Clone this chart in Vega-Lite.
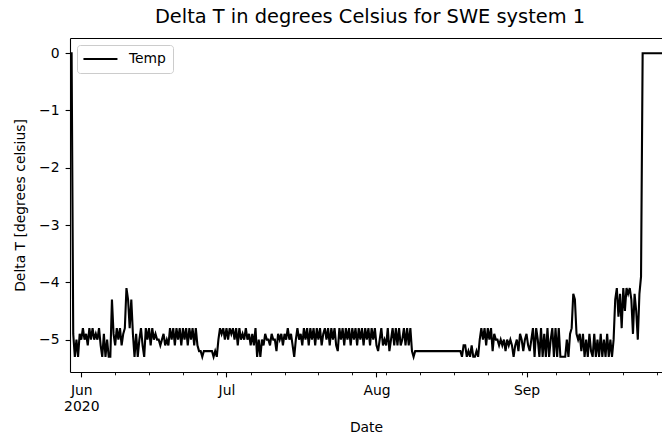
{
"$schema": "https://vega.github.io/schema/vega-lite/v6.json",
"width": 592, "height": 334,
"autosize": {"type": "none"},
"padding": {"left": 70, "top": 38, "right": 0, "bottom": 62},
"title": {"text": "Delta T in degrees Celsius for SWE system 1", "font": "DejaVu Sans", "fontSize": 19.4, "fontWeight": "normal", "color": "black", "anchor": "middle", "frame": "group", "baseline": "alphabetic", "offset": 11, "dy": 15, "dx": 4},
"data": {"values": [
{"t":"2020-05-29T16:00","v":0},
{"t":"2020-05-30T00:00","v":0},{"t":"2020-05-30T08:00","v":-4.9},{"t":"2020-05-30T16:00","v":-5.3},
{"t":"2020-05-31T00:00","v":-5.0},{"t":"2020-05-31T08:00","v":-5.3},{"t":"2020-05-31T16:00","v":-4.9},
{"t":"2020-06-01T00:00","v":-5.0},{"t":"2020-06-01T08:00","v":-4.8},{"t":"2020-06-01T16:00","v":-5.0},
{"t":"2020-06-02T00:00","v":-4.9},{"t":"2020-06-02T08:00","v":-5.1},{"t":"2020-06-02T16:00","v":-4.8},
{"t":"2020-06-03T00:00","v":-5.0},{"t":"2020-06-03T08:00","v":-4.8},{"t":"2020-06-03T16:00","v":-5.0},
{"t":"2020-06-04T00:00","v":-4.9},{"t":"2020-06-04T08:00","v":-5.0},{"t":"2020-06-04T16:00","v":-4.8},
{"t":"2020-06-05T00:00","v":-5.1},{"t":"2020-06-05T08:00","v":-5.3},{"t":"2020-06-05T16:00","v":-4.9},
{"t":"2020-06-06T00:00","v":-5.3},{"t":"2020-06-06T08:00","v":-5.0},{"t":"2020-06-06T16:00","v":-5.3},
{"t":"2020-06-07T00:00","v":-5.3},{"t":"2020-06-07T08:00","v":-4.3},{"t":"2020-06-07T16:00","v":-4.9},
{"t":"2020-06-08T00:00","v":-5.1},{"t":"2020-06-08T08:00","v":-4.8},{"t":"2020-06-08T16:00","v":-5.0},
{"t":"2020-06-09T00:00","v":-4.8},{"t":"2020-06-09T08:00","v":-5.1},{"t":"2020-06-09T16:00","v":-4.9},
{"t":"2020-06-10T00:00","v":-4.8},{"t":"2020-06-10T08:00","v":-4.1},{"t":"2020-06-10T16:00","v":-4.3},
{"t":"2020-06-11T00:00","v":-4.8},{"t":"2020-06-11T08:00","v":-4.3},{"t":"2020-06-11T16:00","v":-4.9},
{"t":"2020-06-12T00:00","v":-5.3},{"t":"2020-06-12T08:00","v":-4.9},{"t":"2020-06-12T16:00","v":-5.3},
{"t":"2020-06-13T00:00","v":-5.0},{"t":"2020-06-13T08:00","v":-4.8},{"t":"2020-06-13T16:00","v":-5.1},
{"t":"2020-06-14T00:00","v":-5.3},{"t":"2020-06-14T08:00","v":-4.8},{"t":"2020-06-14T16:00","v":-5.0},
{"t":"2020-06-15T00:00","v":-4.8},{"t":"2020-06-15T08:00","v":-5.1},{"t":"2020-06-15T16:00","v":-4.8},
{"t":"2020-06-16T00:00","v":-5.0},{"t":"2020-06-16T08:00","v":-4.9},{"t":"2020-06-16T16:00","v":-5.0},
{"t":"2020-06-17T00:00","v":-5.0},{"t":"2020-06-17T08:00","v":-5.1},{"t":"2020-06-17T16:00","v":-5.0},
{"t":"2020-06-18T00:00","v":-4.9},{"t":"2020-06-18T08:00","v":-5.1},{"t":"2020-06-18T16:00","v":-5.0},
{"t":"2020-06-19T00:00","v":-5.1},{"t":"2020-06-19T08:00","v":-4.8},{"t":"2020-06-19T16:00","v":-5.0},
{"t":"2020-06-20T00:00","v":-4.8},{"t":"2020-06-20T08:00","v":-5.1},{"t":"2020-06-20T16:00","v":-4.8},
{"t":"2020-06-21T00:00","v":-5.0},{"t":"2020-06-21T08:00","v":-4.8},{"t":"2020-06-21T16:00","v":-5.1},
{"t":"2020-06-22T00:00","v":-4.8},{"t":"2020-06-22T08:00","v":-5.0},{"t":"2020-06-22T16:00","v":-4.8},
{"t":"2020-06-23T00:00","v":-5.1},{"t":"2020-06-23T08:00","v":-4.8},{"t":"2020-06-23T16:00","v":-5.0},
{"t":"2020-06-24T00:00","v":-4.8},{"t":"2020-06-24T08:00","v":-5.1},{"t":"2020-06-24T16:00","v":-4.8},
{"t":"2020-06-25T00:00","v":-5.1},{"t":"2020-06-25T08:00","v":-5.2},{"t":"2020-06-25T16:00","v":-5.2},
{"t":"2020-06-26T00:00","v":-5.3},{"t":"2020-06-26T08:00","v":-5.2},{"t":"2020-06-26T16:00","v":-5.2},
{"t":"2020-06-27T00:00","v":-5.2},{"t":"2020-06-27T08:00","v":-5.2},{"t":"2020-06-27T16:00","v":-5.2},
{"t":"2020-06-28T00:00","v":-5.2},{"t":"2020-06-28T08:00","v":-5.3},{"t":"2020-06-28T16:00","v":-5.2},
{"t":"2020-06-29T00:00","v":-5.3},{"t":"2020-06-29T08:00","v":-5.0},{"t":"2020-06-29T16:00","v":-4.8},
{"t":"2020-06-30T00:00","v":-4.9},{"t":"2020-06-30T08:00","v":-4.8},{"t":"2020-06-30T16:00","v":-5.0},
{"t":"2020-07-01T00:00","v":-4.8},{"t":"2020-07-01T08:00","v":-5.0},{"t":"2020-07-01T16:00","v":-4.8},
{"t":"2020-07-02T00:00","v":-4.9},{"t":"2020-07-02T08:00","v":-4.8},{"t":"2020-07-02T16:00","v":-5.0},
{"t":"2020-07-03T00:00","v":-4.8},{"t":"2020-07-03T08:00","v":-5.1},{"t":"2020-07-03T16:00","v":-4.8},
{"t":"2020-07-04T00:00","v":-5.0},{"t":"2020-07-04T08:00","v":-4.9},{"t":"2020-07-04T16:00","v":-5.0},
{"t":"2020-07-05T00:00","v":-4.8},{"t":"2020-07-05T08:00","v":-5.0},{"t":"2020-07-05T16:00","v":-4.9},
{"t":"2020-07-06T00:00","v":-5.1},{"t":"2020-07-06T08:00","v":-4.9},{"t":"2020-07-06T16:00","v":-5.1},
{"t":"2020-07-07T00:00","v":-4.8},{"t":"2020-07-07T08:00","v":-5.3},{"t":"2020-07-07T16:00","v":-5.0},
{"t":"2020-07-08T00:00","v":-5.3},{"t":"2020-07-08T08:00","v":-5.0},{"t":"2020-07-08T16:00","v":-5.1},
{"t":"2020-07-09T00:00","v":-4.9},{"t":"2020-07-09T08:00","v":-5.0},{"t":"2020-07-09T16:00","v":-5.0},
{"t":"2020-07-10T00:00","v":-5.1},{"t":"2020-07-10T08:00","v":-4.9},{"t":"2020-07-10T16:00","v":-5.0},
{"t":"2020-07-11T00:00","v":-5.0},{"t":"2020-07-11T08:00","v":-5.2},{"t":"2020-07-11T16:00","v":-4.9},
{"t":"2020-07-12T00:00","v":-5.0},{"t":"2020-07-12T08:00","v":-4.9},{"t":"2020-07-12T16:00","v":-5.1},
{"t":"2020-07-13T00:00","v":-4.9},{"t":"2020-07-13T08:00","v":-5.0},{"t":"2020-07-13T16:00","v":-4.8},
{"t":"2020-07-14T00:00","v":-5.0},{"t":"2020-07-14T08:00","v":-4.9},{"t":"2020-07-14T16:00","v":-5.1},
{"t":"2020-07-15T00:00","v":-5.3},{"t":"2020-07-15T08:00","v":-5.0},{"t":"2020-07-15T16:00","v":-4.8},
{"t":"2020-07-16T00:00","v":-5.0},{"t":"2020-07-16T08:00","v":-4.9},{"t":"2020-07-16T16:00","v":-5.1},
{"t":"2020-07-17T00:00","v":-4.8},{"t":"2020-07-17T08:00","v":-5.0},{"t":"2020-07-17T16:00","v":-4.8},
{"t":"2020-07-18T00:00","v":-5.1},{"t":"2020-07-18T08:00","v":-4.8},{"t":"2020-07-18T16:00","v":-5.0},
{"t":"2020-07-19T00:00","v":-4.8},{"t":"2020-07-19T08:00","v":-5.1},{"t":"2020-07-19T16:00","v":-4.8},
{"t":"2020-07-20T00:00","v":-5.0},{"t":"2020-07-20T08:00","v":-4.8},{"t":"2020-07-20T16:00","v":-5.1},
{"t":"2020-07-21T00:00","v":-4.9},{"t":"2020-07-21T08:00","v":-4.8},{"t":"2020-07-21T16:00","v":-5.0},
{"t":"2020-07-22T00:00","v":-4.8},{"t":"2020-07-22T08:00","v":-5.1},{"t":"2020-07-22T16:00","v":-4.8},
{"t":"2020-07-23T00:00","v":-5.0},{"t":"2020-07-23T08:00","v":-4.8},{"t":"2020-07-23T16:00","v":-5.1},
{"t":"2020-07-24T00:00","v":-5.2},{"t":"2020-07-24T08:00","v":-4.8},{"t":"2020-07-24T16:00","v":-5.0},
{"t":"2020-07-25T00:00","v":-4.8},{"t":"2020-07-25T08:00","v":-5.1},{"t":"2020-07-25T16:00","v":-4.8},
{"t":"2020-07-26T00:00","v":-5.0},{"t":"2020-07-26T08:00","v":-4.8},{"t":"2020-07-26T16:00","v":-5.1},
{"t":"2020-07-27T00:00","v":-4.8},{"t":"2020-07-27T08:00","v":-5.0},{"t":"2020-07-27T16:00","v":-4.8},
{"t":"2020-07-28T00:00","v":-5.1},{"t":"2020-07-28T08:00","v":-4.8},{"t":"2020-07-28T16:00","v":-5.0},
{"t":"2020-07-29T00:00","v":-4.8},{"t":"2020-07-29T08:00","v":-5.1},{"t":"2020-07-29T16:00","v":-4.8},
{"t":"2020-07-30T00:00","v":-5.0},{"t":"2020-07-30T08:00","v":-4.8},{"t":"2020-07-30T16:00","v":-5.1},
{"t":"2020-07-31T00:00","v":-4.8},{"t":"2020-07-31T08:00","v":-5.0},{"t":"2020-07-31T16:00","v":-4.8},
{"t":"2020-08-01T00:00","v":-5.1},{"t":"2020-08-01T08:00","v":-5.2},{"t":"2020-08-01T16:00","v":-5.0},
{"t":"2020-08-02T00:00","v":-4.8},{"t":"2020-08-02T08:00","v":-5.1},{"t":"2020-08-02T16:00","v":-5.0},
{"t":"2020-08-03T00:00","v":-5.1},{"t":"2020-08-03T08:00","v":-4.8},{"t":"2020-08-03T16:00","v":-5.2},
{"t":"2020-08-04T00:00","v":-5.0},{"t":"2020-08-04T08:00","v":-4.8},{"t":"2020-08-04T16:00","v":-5.1},
{"t":"2020-08-05T00:00","v":-4.8},{"t":"2020-08-05T08:00","v":-5.1},{"t":"2020-08-05T16:00","v":-4.8},
{"t":"2020-08-06T00:00","v":-5.1},{"t":"2020-08-06T08:00","v":-5.0},{"t":"2020-08-06T16:00","v":-4.8},
{"t":"2020-08-07T00:00","v":-5.1},{"t":"2020-08-07T08:00","v":-4.8},{"t":"2020-08-07T16:00","v":-5.1},
{"t":"2020-08-08T00:00","v":-4.8},{"t":"2020-08-08T08:00","v":-5.2},{"t":"2020-08-08T16:00","v":-5.3},
{"t":"2020-08-09T00:00","v":-5.2},{"t":"2020-08-09T08:00","v":-5.2},{"t":"2020-08-09T16:00","v":-5.2},
{"t":"2020-08-10T00:00","v":-5.2},{"t":"2020-08-10T08:00","v":-5.2},{"t":"2020-08-10T16:00","v":-5.2},
{"t":"2020-08-11T00:00","v":-5.2},{"t":"2020-08-11T08:00","v":-5.2},{"t":"2020-08-11T16:00","v":-5.2},
{"t":"2020-08-12T00:00","v":-5.2},{"t":"2020-08-12T08:00","v":-5.2},{"t":"2020-08-12T16:00","v":-5.2},
{"t":"2020-08-13T00:00","v":-5.2},{"t":"2020-08-13T08:00","v":-5.2},{"t":"2020-08-13T16:00","v":-5.2},
{"t":"2020-08-14T00:00","v":-5.2},{"t":"2020-08-14T08:00","v":-5.2},{"t":"2020-08-14T16:00","v":-5.2},
{"t":"2020-08-15T00:00","v":-5.2},{"t":"2020-08-15T08:00","v":-5.2},{"t":"2020-08-15T16:00","v":-5.2},
{"t":"2020-08-16T00:00","v":-5.2},{"t":"2020-08-16T08:00","v":-5.2},{"t":"2020-08-16T16:00","v":-5.2},
{"t":"2020-08-17T00:00","v":-5.2},{"t":"2020-08-17T08:00","v":-5.2},{"t":"2020-08-17T16:00","v":-5.2},
{"t":"2020-08-18T00:00","v":-5.2},{"t":"2020-08-18T08:00","v":-5.2},{"t":"2020-08-18T16:00","v":-5.3},
{"t":"2020-08-19T00:00","v":-5.1},{"t":"2020-08-19T08:00","v":-5.1},{"t":"2020-08-19T16:00","v":-5.3},
{"t":"2020-08-20T00:00","v":-5.2},{"t":"2020-08-20T08:00","v":-5.3},{"t":"2020-08-20T16:00","v":-5.1},
{"t":"2020-08-21T00:00","v":-5.3},{"t":"2020-08-21T08:00","v":-5.3},{"t":"2020-08-21T16:00","v":-5.2},
{"t":"2020-08-22T00:00","v":-5.3},{"t":"2020-08-22T08:00","v":-5.0},{"t":"2020-08-22T16:00","v":-4.8},
{"t":"2020-08-23T00:00","v":-5.0},{"t":"2020-08-23T08:00","v":-4.8},{"t":"2020-08-23T16:00","v":-5.1},
{"t":"2020-08-24T00:00","v":-4.8},{"t":"2020-08-24T08:00","v":-5.0},{"t":"2020-08-24T16:00","v":-4.8},
{"t":"2020-08-25T00:00","v":-5.2},{"t":"2020-08-25T08:00","v":-4.9},{"t":"2020-08-25T16:00","v":-5.0},
{"t":"2020-08-26T00:00","v":-5.0},{"t":"2020-08-26T08:00","v":-5.1},{"t":"2020-08-26T16:00","v":-5.0},
{"t":"2020-08-27T00:00","v":-5.1},{"t":"2020-08-27T08:00","v":-5.0},{"t":"2020-08-27T16:00","v":-5.2},
{"t":"2020-08-28T00:00","v":-5.0},{"t":"2020-08-28T08:00","v":-5.1},{"t":"2020-08-28T16:00","v":-5.0},
{"t":"2020-08-29T00:00","v":-5.1},{"t":"2020-08-29T08:00","v":-5.3},{"t":"2020-08-29T16:00","v":-5.1},
{"t":"2020-08-30T00:00","v":-5.0},{"t":"2020-08-30T08:00","v":-5.2},{"t":"2020-08-30T16:00","v":-4.9},
{"t":"2020-08-31T00:00","v":-5.0},{"t":"2020-08-31T08:00","v":-5.2},{"t":"2020-08-31T16:00","v":-5.0},
{"t":"2020-09-01T00:00","v":-4.9},{"t":"2020-09-01T08:00","v":-5.1},{"t":"2020-09-01T16:00","v":-5.2},
{"t":"2020-09-02T00:00","v":-5.0},{"t":"2020-09-02T08:00","v":-4.8},{"t":"2020-09-02T16:00","v":-5.3},
{"t":"2020-09-03T00:00","v":-4.8},{"t":"2020-09-03T08:00","v":-5.0},{"t":"2020-09-03T16:00","v":-5.3},
{"t":"2020-09-04T00:00","v":-4.8},{"t":"2020-09-04T08:00","v":-5.3},{"t":"2020-09-04T16:00","v":-4.9},
{"t":"2020-09-05T00:00","v":-5.3},{"t":"2020-09-05T08:00","v":-4.8},{"t":"2020-09-05T16:00","v":-5.3},
{"t":"2020-09-06T00:00","v":-5.0},{"t":"2020-09-06T08:00","v":-4.8},{"t":"2020-09-06T16:00","v":-5.3},
{"t":"2020-09-07T00:00","v":-4.8},{"t":"2020-09-07T08:00","v":-5.3},{"t":"2020-09-07T16:00","v":-4.8},
{"t":"2020-09-08T00:00","v":-5.3},{"t":"2020-09-08T08:00","v":-5.3},{"t":"2020-09-08T16:00","v":-5.3},
{"t":"2020-09-09T00:00","v":-5.3},{"t":"2020-09-09T08:00","v":-5.0},{"t":"2020-09-09T16:00","v":-5.3},
{"t":"2020-09-10T00:00","v":-4.9},{"t":"2020-09-10T08:00","v":-4.8},{"t":"2020-09-10T16:00","v":-4.2},
{"t":"2020-09-11T00:00","v":-4.3},{"t":"2020-09-11T08:00","v":-4.9},{"t":"2020-09-11T16:00","v":-5.0},
{"t":"2020-09-12T00:00","v":-4.9},{"t":"2020-09-12T08:00","v":-5.2},{"t":"2020-09-12T16:00","v":-4.9},
{"t":"2020-09-13T00:00","v":-5.3},{"t":"2020-09-13T08:00","v":-5.0},{"t":"2020-09-13T16:00","v":-5.3},
{"t":"2020-09-14T00:00","v":-4.9},{"t":"2020-09-14T08:00","v":-5.2},{"t":"2020-09-14T16:00","v":-5.3},
{"t":"2020-09-15T00:00","v":-4.9},{"t":"2020-09-15T08:00","v":-5.3},{"t":"2020-09-15T16:00","v":-5.0},
{"t":"2020-09-16T00:00","v":-5.3},{"t":"2020-09-16T08:00","v":-4.9},{"t":"2020-09-16T16:00","v":-5.3},
{"t":"2020-09-17T00:00","v":-5.0},{"t":"2020-09-17T08:00","v":-5.3},{"t":"2020-09-17T16:00","v":-4.9},
{"t":"2020-09-18T00:00","v":-5.3},{"t":"2020-09-18T08:00","v":-5.0},{"t":"2020-09-18T16:00","v":-5.3},
{"t":"2020-09-19T00:00","v":-5.0},{"t":"2020-09-19T08:00","v":-4.3},{"t":"2020-09-19T16:00","v":-4.1},
{"t":"2020-09-20T00:00","v":-4.6},{"t":"2020-09-20T08:00","v":-4.2},{"t":"2020-09-20T16:00","v":-4.8},
{"t":"2020-09-21T00:00","v":-4.1},{"t":"2020-09-21T08:00","v":-4.5},{"t":"2020-09-21T16:00","v":-4.1},
{"t":"2020-09-22T00:00","v":-4.2},{"t":"2020-09-22T08:00","v":-4.1},{"t":"2020-09-22T16:00","v":-4.3},
{"t":"2020-09-23T00:00","v":-4.9},{"t":"2020-09-23T08:00","v":-4.2},{"t":"2020-09-23T16:00","v":-4.5},
{"t":"2020-09-24T00:00","v":-5.0},{"t":"2020-09-24T08:00","v":-4.2},{"t":"2020-09-24T16:00","v":-3.9},
{"t":"2020-09-25T00:00","v":0},{"t":"2020-09-25T08:00","v":0},{"t":"2020-09-25T16:00","v":0},
{"t":"2020-09-26T00:00","v":0},{"t":"2020-09-26T08:00","v":0},{"t":"2020-09-26T16:00","v":0},
{"t":"2020-09-27T00:00","v":0},{"t":"2020-09-27T08:00","v":0},{"t":"2020-09-27T16:00","v":0},
{"t":"2020-09-28T00:00","v":0},{"t":"2020-09-28T08:00","v":0},{"t":"2020-09-28T16:00","v":0},
{"t":"2020-09-29T00:00","v":0}
]},
"layer": [
{
"mark": {"type": "line", "strokeWidth": 2.1, "clip": true},
"encoding": {
"x": {"field": "t", "type": "temporal",
"scale": {"domain": [{"year": 2020, "month": 5, "date": 29, "hours": 16}, {"year": 2020, "month": 9, "date": 29, "hours": 0}], "nice": false},
"axis": {"orient": "bottom", "values": [{"year": 2020, "month": 6, "date": 1}, {"year": 2020, "month": 7, "date": 1}, {"year": 2020, "month": 8, "date": 1}, {"year": 2020, "month": 9, "date": 1}],
"labelExpr": "month(datum.value) == 5 ? ['Jun', '2020'] : timeFormat(datum.value, '%b')",
"grid": false, "tickSize": 4.9, "tickWidth": 1.1, "tickColor": "black", "domainColor": "black", "domainWidth": 1.1,
"labelFont": "DejaVu Sans", "labelFontSize": 13.9, "labelColor": "black", "labelPadding": 7, "labelBaseline": "top", "labelLineHeight": 16, "labelFlush": false, "labelOverlap": false,
"title": "Date", "titleFont": "DejaVu Sans", "titleFontSize": 13.9, "titleFontWeight": "normal", "titleColor": "black", "titleY": 59.5, "titleBaseline": "alphabetic"}},
"y": {"field": "v", "type": "quantitative",
"scale": {"domain": [-5.565, 0.265], "nice": false, "zero": false},
"axis": {"values": [-5, -4, -3, -2, -1, 0], "format": "d", "grid": false, "tickSize": 4.9, "tickWidth": 1.1, "tickColor": "black", "domainColor": "black", "domainWidth": 1.1,
"labelFont": "DejaVu Sans", "labelFontSize": 13.9, "labelColor": "black", "labelPadding": 6,
"title": "Delta T [degrees celsius]", "titleFont": "DejaVu Sans", "titleFontSize": 13.9, "titleFontWeight": "normal", "titleColor": "black", "titleX": -46, "titleBaseline": "alphabetic"}},
"color": {"datum": "Temp", "type": "nominal", "scale": {"range": ["black"]},
"legend": {"orient": "top-left", "offset": 7, "title": null, "symbolType": "M-1.5,0H5.3", "symbolSize": 100, "symbolStrokeWidth": 2.1, "symbolStrokeColor": "black", "labelOffset": 31,
"labelFont": "DejaVu Sans", "labelFontSize": 13.9, "labelColor": "black", "padding": 7, "fillColor": "rgba(255,255,255,0.8)", "strokeColor": "#cccccc", "cornerRadius": 3}}
}
},
{
"mark": {"type": "line", "opacity": 0},
"encoding": {
"x": {"field": "t", "type": "temporal",
"scale": {"domain": [{"year": 2020, "month": 5, "date": 29, "hours": 16}, {"year": 2020, "month": 9, "date": 29, "hours": 0}], "nice": false},
"axis": {"orient": "bottom", "values": [{"year": 2020, "month": 6, "date": 1}, {"year": 2020, "month": 6, "date": 8}, {"year": 2020, "month": 6, "date": 15}, {"year": 2020, "month": 6, "date": 22}, {"year": 2020, "month": 6, "date": 29}, {"year": 2020, "month": 7, "date": 6}, {"year": 2020, "month": 7, "date": 13}, {"year": 2020, "month": 7, "date": 20}, {"year": 2020, "month": 7, "date": 27}, {"year": 2020, "month": 8, "date": 3}, {"year": 2020, "month": 8, "date": 10}, {"year": 2020, "month": 8, "date": 17}, {"year": 2020, "month": 8, "date": 24}, {"year": 2020, "month": 8, "date": 31}, {"year": 2020, "month": 9, "date": 7}, {"year": 2020, "month": 9, "date": 14}, {"year": 2020, "month": 9, "date": 21}, {"year": 2020, "month": 9, "date": 28}],
"labels": false, "domain": false, "grid": false, "title": null, "tickSize": 2.8, "tickWidth": 0.9, "tickColor": "black"}}
}
},
{
"mark": {"type": "line", "opacity": 0},
"encoding": {
"x": {"field": "t", "type": "temporal",
"scale": {"domain": [{"year": 2020, "month": 5, "date": 29, "hours": 16}, {"year": 2020, "month": 9, "date": 29, "hours": 0}], "nice": false},
"axis": {"orient": "top", "labels": false, "ticks": false, "grid": false, "title": null, "domain": true, "domainColor": "black", "domainWidth": 1.1}}
}
}
],
"resolve": {"axis": {"x": "independent"}},
"config": {"view": {"stroke": null}, "background": "white"}
}
